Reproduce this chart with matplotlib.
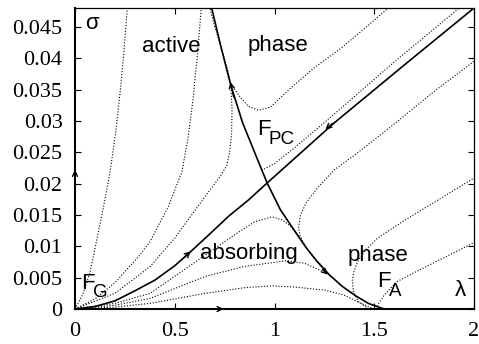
import numpy as np
import matplotlib
matplotlib.use("Agg")
import matplotlib.pyplot as plt

# separatrix (unstable manifold of F_PC), solid
sep_x = [0.685, 0.73, 0.78, 0.84, 0.90, 0.963, 1.03, 1.10, 1.156, 1.21, 1.273, 1.34, 1.407, 1.47, 1.54]
sep_y = [0.048, 0.0420, 0.0358, 0.0297, 0.0250, 0.0201, 0.0158, 0.0125, 0.0099, 0.0077, 0.0055, 0.0036, 0.0021, 0.0009, 0.0001]

# line through F_G and F_PC, solid
lin_x = [0.0, 0.1, 0.2, 0.3, 0.4, 0.5, 0.578, 0.68, 0.77, 0.87, 0.963, 1.3, 1.65, 2.0]
lin_y = [0.0, 0.0004, 0.0013, 0.0029, 0.0046, 0.0069, 0.0091, 0.0121, 0.0148, 0.0174, 0.0201, 0.0297, 0.0389, 0.048]

# dotted flow lines
flows = [
    ([0.0, 0.04, 0.075, 0.109, 0.143, 0.176, 0.203, 0.226, 0.245, 0.262],
     [0.0, 0.0024, 0.0058, 0.0110, 0.0163, 0.0219, 0.028, 0.0345, 0.041, 0.048]),
    ([0.0, 0.1, 0.2, 0.317, 0.377, 0.467, 0.536, 0.565, 0.59, 0.612, 0.633],
     [0.0, 0.0016, 0.0042, 0.0083, 0.0108, 0.0163, 0.0219, 0.027, 0.033, 0.040, 0.048]),
    ([0.0, 0.2, 0.377, 0.5, 0.653, 0.72, 0.76, 0.775, 0.785, 0.787, 0.780, 0.762, 0.725, 0.70, 0.676],
     [0.0, 0.0025, 0.0068, 0.0113, 0.018, 0.0208, 0.0228, 0.025, 0.028, 0.032, 0.036, 0.0385, 0.0425, 0.045, 0.048]),
    ([0.935, 1.0, 1.1, 1.3, 1.6, 1.926],
     [0.0221, 0.0232, 0.0257, 0.0311, 0.0394, 0.048]),
    ([0.79, 0.83, 0.87, 0.92, 0.98, 1.08, 1.2, 1.33, 1.45, 1.57],
     [0.0355, 0.0337, 0.0323, 0.0317, 0.0322, 0.0352, 0.0385, 0.0415, 0.0447, 0.048]),
    ([2.0, 1.8, 1.6, 1.4, 1.3, 1.22, 1.16, 1.13, 1.12, 1.13, 1.16, 1.21, 1.27],
     [0.0395, 0.0347, 0.0295, 0.0245, 0.0222, 0.0195, 0.0170, 0.0150, 0.013, 0.0115, 0.0097, 0.0078, 0.0057]),
    ([1.46, 1.42, 1.395, 1.39, 1.40, 1.42, 1.46, 1.516, 1.65, 1.8, 2.0],
     [0.0003, 0.0012, 0.0028, 0.0046, 0.0062, 0.0078, 0.0095, 0.0113, 0.0141, 0.017, 0.0209]),
    ([1.51, 1.52, 1.55, 1.61, 1.7, 1.85, 2.0],
     [0.0, 0.0008, 0.0022, 0.0043, 0.0058, 0.0082, 0.0106]),
    ([0.0, 0.2, 0.377, 0.594, 0.812, 0.9, 0.988, 1.04, 1.08, 1.12, 1.14],
     [0.0, 0.0009, 0.0025, 0.0073, 0.0121, 0.0139, 0.0147, 0.0142, 0.0132, 0.0117, 0.0106]),
    ([0.0, 0.2, 0.377, 0.653, 0.85, 1.06, 1.15, 1.22, 1.27],
     [0.0, 0.0006, 0.0017, 0.0052, 0.0068, 0.0077, 0.0073, 0.0063, 0.0055]),
    ([0.0, 0.2, 0.377, 0.653, 0.85, 0.988, 1.1, 1.256, 1.35, 1.42, 1.5],
     [0.0, 0.0003, 0.0009, 0.0025, 0.0034, 0.0037, 0.0035, 0.0030, 0.0022, 0.0011, 0.0]),
]

# arrow heads: (tail x, tail y, head x, head y)
arrows = [
    (0.0, 0.0205, 0.0, 0.0222),
    (0.70, 0.0, 0.745, 0.0),
    (0.795, 0.0338, 0.779, 0.0362),
    (1.24, 0.0063, 1.268, 0.0055),
    (0.55, 0.0083, 0.58, 0.0092),
    (1.29, 0.0296, 1.255, 0.0286),
]

labels = [
    (0.05, 0.0456, "σ"), (0.335, 0.0418, "active"), (0.865, 0.0421, "phase"),
    (0.625, 0.0089, "absorbing"), (1.365, 0.0086, "phase"), (1.905, 0.0030, "λ"),
]
# fixed points: F position, subscript position, subscript
fixed_pts = [
    (0.032, 0.0041, 0.088, 0.0027, "G"),
    (0.913, 0.0286, 0.968, 0.0270, "PC"),
    (1.514, 0.0044, 1.573, 0.0028, "A"),
]

plt.rcParams['font.family'] = ['Liberation Sans', 'DejaVu Sans']

fig = plt.figure(figsize=(4.79, 3.44), dpi=100)
ax = fig.add_axes([0.1566, 0.1017, 0.8330, 0.8750])

for fx, fy in flows:
    ax.plot(fx, fy, color='black', lw=0.8, linestyle=(0, (1, 1.6)))
ax.plot(sep_x, sep_y, color='black', lw=1.2)
ax.plot(lin_x, lin_y, color='black', lw=1.2)

for x0, y0, x1, y1 in arrows:
    ax.annotate('', xy=(x1, y1), xytext=(x0, y0),
                arrowprops=dict(arrowstyle='->', lw=1.0, color='black',
                                mutation_scale=9, shrinkA=0, shrinkB=0))

for x, y, s in labels:
    ax.text(x, y, s, fontsize=16, ha='left', va='center')
for fx, fy, sx, sy, sub in fixed_pts:
    ax.text(fx, fy, 'F', fontsize=16, ha='left', va='center')
    ax.text(sx, sy, sub, fontsize=13.5, ha='left', va='center')

ax.set_xlim(0, 2)
ax.set_ylim(0, 0.048)
ax.set_xticks([0, 0.5, 1, 1.5, 2])
ax.set_xticklabels(['0', '0.5', '1', '1.5', '2'])
yt = [0, 0.005, 0.01, 0.015, 0.02, 0.025, 0.03, 0.035, 0.04, 0.045]
ax.set_yticks(yt)
ax.set_yticklabels(['0', '0.005', '0.01', '0.015', '0.02', '0.025', '0.03', '0.035', '0.04', '0.045'])
ax.tick_params(direction='in', length=4, width=0.8, top=True, right=True, labelsize=16)
ax.tick_params(axis='x', pad=9)
ax.tick_params(axis='y', pad=9)
for lab in ax.get_xticklabels() + ax.get_yticklabels():
    lab.set_family('Liberation Serif')
for side in ['top', 'right']:
    ax.spines[side].set_linewidth(0.9)
for side in ['bottom', 'left']:
    ax.spines[side].set_linewidth(1.5)

fig.savefig('out.png', dpi=100)
